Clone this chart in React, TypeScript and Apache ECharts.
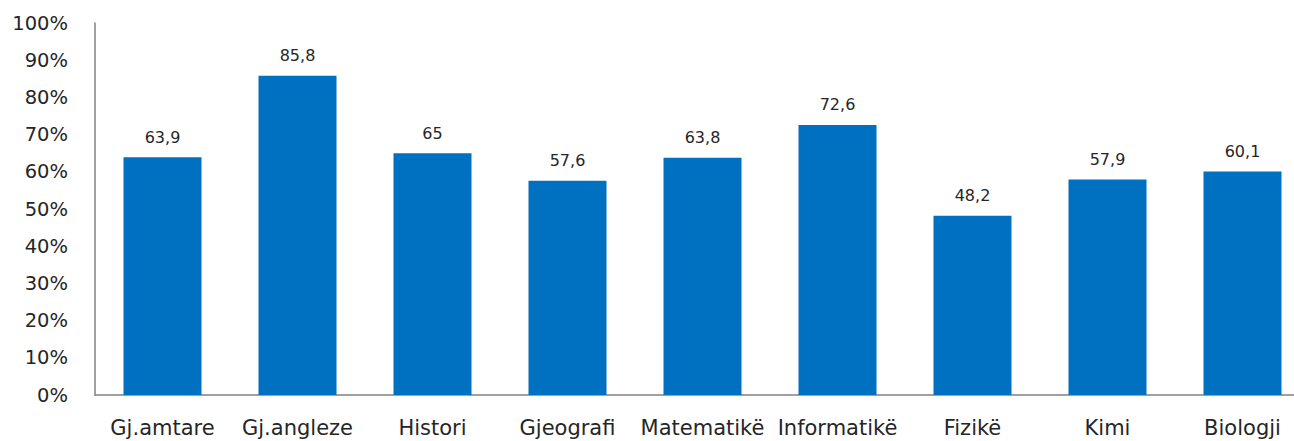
import React, { useEffect, useRef } from "react";
import * as echarts from "echarts";

const categories = ["Gj.amtare", "Gj.angleze", "Histori", "Gjeografi", "Matematikë", "Informatikë", "Fizikë", "Kimi", "Biologji"];
const values = [63.9, 85.8, 65, 57.6, 63.8, 72.6, 48.2, 57.9, 60.1];
const yTicks = { min: 0, max: 100, interval: 10 };

const FONT = "DejaVu Sans";
const TEXT = "#262626";

export default function App() {
  const ref = useRef<HTMLDivElement>(null);
  useEffect(() => {
    const chart = echarts.init(ref.current!, null, { renderer: "svg" });
    chart.setOption({
      animation: false,
      grid: { left: 95, top: 23, width: 1215, height: 372 },
      xAxis: {
        type: "category",
        data: categories,
        axisLine: { lineStyle: { color: "#808080", width: 1.5 } },
        axisTick: { show: false },
        axisLabel: { color: TEXT, fontFamily: FONT, fontSize: 21, margin: 22, interval: 0 },
      },
      yAxis: {
        type: "value",
        min: yTicks.min,
        max: yTicks.max,
        interval: yTicks.interval,
        axisLine: { show: true, lineStyle: { color: "#808080", width: 1.5 } },
        axisTick: { show: false },
        splitLine: { show: false },
        axisLabel: { color: TEXT, fontFamily: FONT, fontSize: 19.5, margin: 27, formatter: "{value}%" },
      },
      series: [
        {
          type: "bar",
          data: values,
          barWidth: 78,
          itemStyle: { color: "#0070C0" },
          label: {
            show: true,
            position: "top",
            distance: 12,
            color: TEXT,
            fontFamily: FONT,
            fontSize: 16,
            formatter: (p: any) => String(p.value).replace(".", ","),
          },
        },
      ],
    });
    return () => chart.dispose();
  }, []);
  return (
    <div style={{ width: 1294, height: 441, position: "absolute", left: 0, top: 0, overflow: "hidden" }}>
      <div ref={ref} style={{ width: 1330, height: 441 }} />
    </div>
  );
}
